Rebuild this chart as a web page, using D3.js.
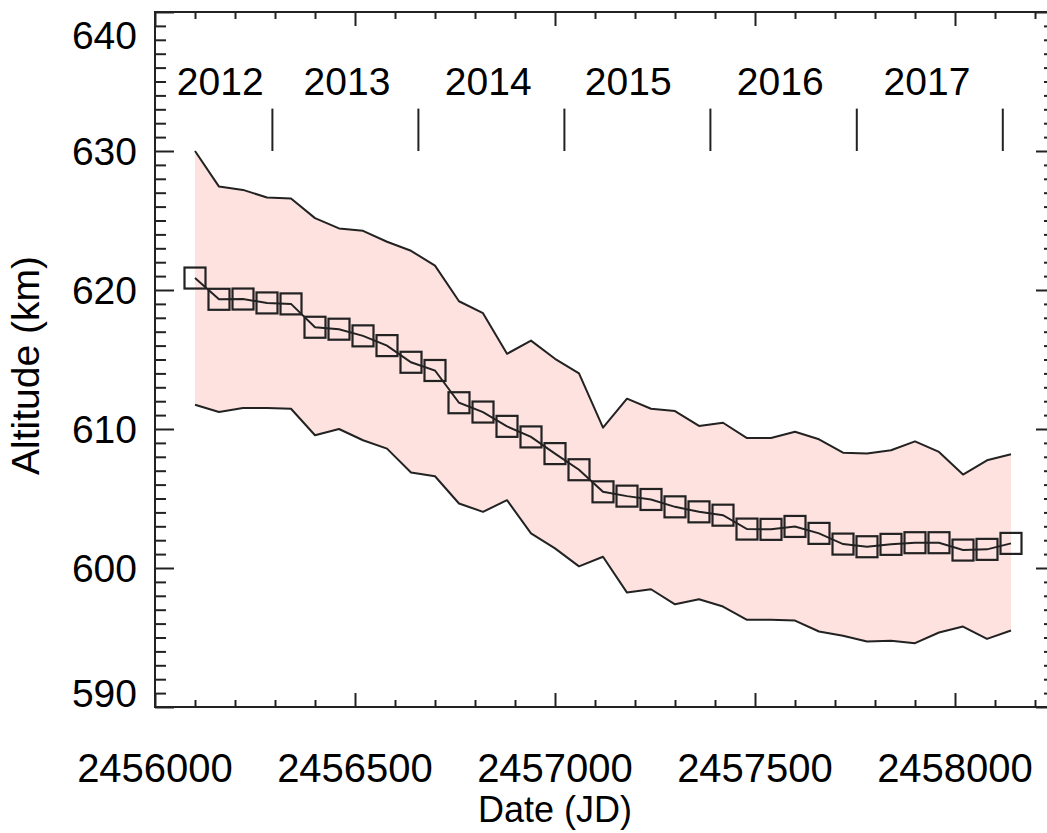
<!DOCTYPE html>
<html>
<head>
<meta charset="utf-8">
<script src="https://cdn.jsdelivr.net/npm/d3@7"></script>
<style>
  body { margin: 0; background: #fff; }
  svg { display: block; }
  text { font-family: "Liberation Sans", Arial, Helvetica, sans-serif; fill: #000; }
</style>
</head>
<body>
<svg id="chart" width="1047" height="833"></svg>
<script>
// Observation epochs (Julian Date)
const dates = [2456100, 2456160, 2456220, 2456280, 2456340, 2456400, 2456460, 2456520, 2456580,
  2456640, 2456700, 2456760, 2456820, 2456880, 2456940, 2457000, 2457060, 2457120, 2457180,
  2457240, 2457300, 2457360, 2457420, 2457480, 2457540, 2457600, 2457660, 2457720, 2457780,
  2457840, 2457900, 2457960, 2458020, 2458080, 2458140];

// Mean altitude (km)
const altMean = [620.86, 619.33, 619.35, 619.07, 619.0, 617.32, 617.18, 616.7, 616.0, 614.8,
  614.21, 611.89, 611.22, 610.19, 609.43, 608.23, 607.07, 605.48, 605.17, 604.93, 604.40,
  604.04, 603.80, 602.80, 602.78, 602.99, 602.49, 601.72, 601.53, 601.70, 601.82, 601.82,
  601.29, 601.34, 601.77];

// Upper envelope (km)
const altUpper = [630.0, 627.44, 627.2, 626.65, 626.58, 625.17, 624.43, 624.26, 623.47, 622.82,
  621.75, 619.19, 618.33, 615.41, 616.36, 615.05, 614.0, 610.1, 612.18, 611.46, 611.29,
  610.22, 610.45, 609.35, 609.35, 609.8, 609.26, 608.30, 608.23, 608.47, 609.11, 608.35,
  606.72, 607.75, 608.18];

// Lower envelope (km)
const altLower = [611.75, 611.22, 611.51, 611.51, 611.46, 609.55, 610.0, 609.19, 608.59, 606.87,
  606.60, 604.64, 604.04, 604.88, 602.49, 601.41, 600.12, 600.81, 598.23, 598.47, 597.39,
  597.75, 597.23, 596.27, 596.27, 596.22, 595.43, 595.12, 594.71, 594.76, 594.59, 595.36,
  595.79, 594.90, 595.50];

// Axis ticks
const yMajorTicks = [590, 600, 610, 620, 630, 640];
const xMajorTicks = [2456000, 2456500, 2457000, 2457500, 2458000];

// Calendar year boundaries (JD of 1 January) and year labels
const yearBoundaries = [2456293.5, 2456658.5, 2457023.5, 2457388.5, 2457754.5, 2458119.5];
const yearNames = ["2012", "2013", "2014", "2015", "2016", "2017"];
const yearLabelJD = [2456163, 2456480, 2456833, 2457183, 2457563, 2457930];

const svg = d3.select("#chart");
const plotL = 155, plotR = 1055, plotT = 12, plotB = 707;
const ink = "#222";

const x = d3.scaleLinear().domain([2456000, 2458250]).range([plotL, plotR]);
const y = d3.scaleLinear().domain([590, 640]).range([plotB, plotT]);

// Shaded band between the envelopes
const band = dates.map((d, i) => ({ d, lo: altLower[i], hi: altUpper[i] }));
svg.append("path")
  .datum(band)
  .attr("fill", "#fde2df")
  .attr("d", d3.area().x(p => x(p.d)).y0(p => y(p.lo)).y1(p => y(p.hi)));

const lineOf = vals => d3.line().x((d, i) => x(dates[i])).y((d, i) => y(vals[i]));

[altUpper, altLower].forEach(vals => {
  svg.append("path").datum(vals)
    .attr("fill", "none").attr("stroke", ink).attr("stroke-width", 2)
    .attr("stroke-linejoin", "round")
    .attr("d", lineOf(vals));
});

svg.append("path").datum(altMean)
  .attr("fill", "none").attr("stroke", ink).attr("stroke-width", 2)
  .attr("d", lineOf(altMean));

// Square markers
const sq = 21;
svg.append("g").selectAll("rect")
  .data(altMean)
  .join("rect")
  .attr("x", (d, i) => x(dates[i]) - sq / 2)
  .attr("y", d => y(d) - sq / 2)
  .attr("width", sq).attr("height", sq)
  .attr("fill", "none").attr("stroke", ink).attr("stroke-width", 2.2);

// Year boundary markers and labels
svg.append("g").selectAll("line")
  .data(yearBoundaries)
  .join("line")
  .attr("x1", d => x(d)).attr("x2", d => x(d))
  .attr("y1", y(630)).attr("y2", y(633.05))
  .attr("stroke", ink).attr("stroke-width", 2);

svg.append("g").selectAll("text")
  .data(yearNames)
  .join("text")
  .attr("x", (d, i) => x(yearLabelJD[i]))
  .attr("y", y(634.05))
  .attr("text-anchor", "middle")
  .attr("font-size", 39)
  .text(d => d);

// Axes with major and minor ticks on all four sides
const yMinor = d3.range(590, 641, 1).filter(v => v % 10 !== 0);
const xMinor = d3.range(2456000, 2458251, 100).filter(v => v % 500 !== 0);
const yLen = 19, yMinLen = 11, xLen = 14, xMinLen = 7;

function tickGroup(axis, tx, ty) {
  const g = svg.append("g").attr("transform", `translate(${tx},${ty})`).call(axis);
  g.select(".domain").remove();
  g.selectAll("text").remove();
  g.selectAll("line").attr("stroke", ink).attr("stroke-width", 2);
  return g;
}

tickGroup(d3.axisLeft(y).tickValues(yMajorTicks).tickSize(-yLen), plotL, 0);
tickGroup(d3.axisLeft(y).tickValues(yMinor).tickSize(-yMinLen), plotL, 0);
tickGroup(d3.axisRight(y).tickValues(yMajorTicks).tickSize(-yLen), plotR, 0);
tickGroup(d3.axisRight(y).tickValues(yMinor).tickSize(-yMinLen), plotR, 0);
tickGroup(d3.axisBottom(x).tickValues(xMajorTicks).tickSize(-xLen), 0, plotB);
tickGroup(d3.axisBottom(x).tickValues(xMinor).tickSize(-xMinLen), 0, plotB);
tickGroup(d3.axisTop(x).tickValues(xMajorTicks).tickSize(-xLen), 0, plotT);
tickGroup(d3.axisTop(x).tickValues(xMinor).tickSize(-xMinLen), 0, plotT);

// Plot frame
svg.append("rect")
  .attr("x", plotL).attr("y", plotT)
  .attr("width", plotR - plotL).attr("height", plotB - plotT)
  .attr("fill", "none").attr("stroke", ink).attr("stroke-width", 2);

// Tick labels
svg.append("g").selectAll("text")
  .data(yMajorTicks)
  .join("text")
  .attr("x", plotL - 18)
  .attr("y", d => Math.min(Math.max(y(d), plotT + 23), plotB - 14))
  .attr("dy", "0.36em")
  .attr("text-anchor", "end")
  .attr("font-size", 39)
  .text(d => d);

svg.append("g").selectAll("text")
  .data(xMajorTicks)
  .join("text")
  .attr("x", d => x(d))
  .attr("y", 782)
  .attr("text-anchor", "middle")
  .attr("font-size", 40)
  .text(d => d);

// Axis titles
svg.append("text")
  .attr("transform", `translate(39,${(plotT + plotB) / 2 + 6}) rotate(-90)`)
  .attr("text-anchor", "middle")
  .attr("font-size", 39)
  .text("Altitude (km)");

svg.append("text")
  .attr("x", 555).attr("y", 822)
  .attr("text-anchor", "middle")
  .attr("font-size", 36)
  .text("Date (JD)");
</script>
</body>
</html>
